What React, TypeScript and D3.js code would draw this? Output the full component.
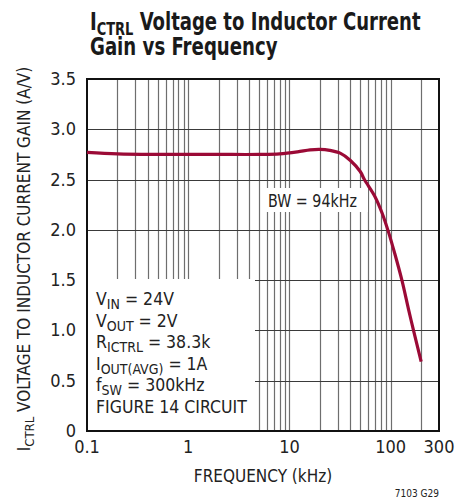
import { useEffect, useRef } from 'react'
import * as d3 from 'd3'

// (kHz, A/V)
const freqKHz = [0.1, 0.2, 0.5, 1, 2, 5, 8, 12, 16, 20, 25, 32, 40, 50, 55, 70, 82, 95, 110, 129, 150, 168, 200]
const gain = [2.77, 2.755, 2.75, 2.75, 2.75, 2.75, 2.755, 2.775, 2.795, 2.8, 2.79, 2.76, 2.69, 2.58, 2.5, 2.33, 2.17, 1.98, 1.76, 1.5, 1.21, 1.0, 0.69]

const xTicks = [0.1, 1, 10, 100, 300]
const xTickLabels = ['0.1', '1', '10', '100', '300']
const yTicks = [0, 0.5, 1, 1.5, 2, 2.5, 3, 3.5]
const yTickLabels = ['0', '0.5', '1.0', '1.5', '2.0', '2.5', '3.0', '3.5']

const FONT = "'Liberation Sans Narrow', 'Arial Narrow', 'DejaVu Sans Condensed', sans-serif"
const RED = '#9b0a36'

type TextSel = d3.Selection<SVGTextElement, unknown, null, undefined>

// squeeze a text horizontally so it spans the wanted width
function fitWidth(t: TextSel, x0: number, target: number) {
  const w = t.node()?.getBBox().width || target
  const s = target / w
  t.attr('transform', `translate(${x0},0) scale(${s},1) translate(${-x0},0)`)
}

export default function App() {
  const svgRef = useRef<SVGSVGElement>(null)
  const width = 459
  const height = 502

  useEffect(() => {
    if (!svgRef.current) return
    const svg = d3.select(svgRef.current)
    svg.selectAll('*').remove()

    const left = 87
    const right = 439
    const top = 79
    const bottom = 431

    const x = d3.scaleLog().domain([0.1, 300]).range([left, right])
    const y = d3.scaleLinear().domain([0, 3.5]).range([bottom, top])

    svg.append('rect').attr('width', width).attr('height', height).attr('fill', '#fff')

    // Title
    const title = svg
      .append('text')
      .attr('x', 90)
      .attr('y', 30)
      .attr('font-family', FONT)
      .attr('font-weight', 'bold')
      .attr('font-size', 25)
      .attr('fill', '#1a1a1a')
    title.append('tspan').text('I')
    title.append('tspan').attr('font-size', 18).attr('dy', 5).text('CTRL')
    title.append('tspan').attr('dy', -5).text(' Voltage to Inductor Current')
    fitWidth(title, 90, 331)
    const title2 = svg
      .append('text')
      .attr('x', 90)
      .attr('y', 55)
      .attr('font-family', FONT)
      .attr('font-weight', 'bold')
      .attr('font-size', 25)
      .attr('fill', '#1a1a1a')
      .text('Gain vs Frequency')
    fitWidth(title2, 90, 188)

    // Grid: minor vertical lines
    const minor: number[] = []
    for (let dec = 0.1; dec < 300; dec *= 10) {
      for (let m = 1; m <= 9; m++) {
        const v = dec * m
        if (v > 0.1 && v < 300) minor.push(v)
      }
    }
    svg
      .append('g')
      .selectAll('line')
      .data(minor)
      .enter()
      .append('line')
      .attr('x1', (d) => Math.round(x(d)) + 0.5)
      .attr('x2', (d) => Math.round(x(d)) + 0.5)
      .attr('y1', top)
      .attr('y2', bottom)
      .attr('stroke', '#6e6e6e')
      .attr('stroke-width', 1.2)

    svg
      .append('g')
      .selectAll('line')
      .data(yTicks.slice(1, -1))
      .enter()
      .append('line')
      .attr('x1', left)
      .attr('x2', right)
      .attr('y1', (d) => Math.round(y(d)) + 0.5)
      .attr('y2', (d) => Math.round(y(d)) + 0.5)
      .attr('stroke', '#3a3a3a')
      .attr('stroke-width', 1.2)

    // White boxes behind annotations
    svg.append('rect').attr('x', left).attr('y', 279).attr('width', 168).attr('height', bottom - 279).attr('fill', '#fff')
    svg.append('rect').attr('x', 265).attr('y', 188).attr('width', 103).attr('height', 24).attr('fill', '#fff')

    // Frame
    svg
      .append('rect')
      .attr('x', left)
      .attr('y', top)
      .attr('width', right - left)
      .attr('height', bottom - top)
      .attr('fill', 'none')
      .attr('stroke', '#111')
      .attr('stroke-width', 2)

    // Curve
    const line = d3
      .line<number>()
      .x((d) => x(d))
      .y((_, i) => y(gain[i]))
      .curve(d3.curveCatmullRom.alpha(0.5))
    svg
      .append('path')
      .datum(freqKHz)
      .attr('d', line)
      .attr('fill', 'none')
      .attr('stroke', RED)
      .attr('stroke-width', 3.2)

    // Tick labels
    svg
      .append('g')
      .selectAll('text')
      .data(yTicks)
      .enter()
      .append('text')
      .attr('x', 76)
      .attr('y', (d) => y(d) + 6)
      .attr('text-anchor', 'end')
      .attr('font-family', FONT)
      .attr('font-size', 18)
      .attr('fill', '#222')
      .text((_, i) => yTickLabels[i])

    svg
      .append('g')
      .selectAll('text')
      .data(xTicks)
      .enter()
      .append('text')
      .attr('x', (d) => x(d))
      .attr('y', 453)
      .attr('text-anchor', 'middle')
      .attr('font-family', FONT)
      .attr('font-size', 18)
      .attr('fill', '#222')
      .text((_, i) => xTickLabels[i])

    // Axis titles
    svg
      .append('text')
      .attr('x', 263)
      .attr('y', 482)
      .attr('text-anchor', 'middle')
      .attr('font-family', FONT)
      .attr('font-size', 17)
      .attr('fill', '#222')
      .text('FREQUENCY (kHz)')

    const yTitle = svg
      .append('text')
      .attr('transform', 'translate(30, 259) rotate(-90)')
      .attr('text-anchor', 'middle')
      .attr('font-family', FONT)
      .attr('font-size', 17)
      .attr('fill', '#222')
    yTitle.append('tspan').text('I')
    yTitle.append('tspan').attr('font-size', 13).attr('dy', 4).text('CTRL')
    yTitle.append('tspan').attr('dy', -4).text(' VOLTAGE TO INDUCTOR CURRENT GAIN (A/V)')

    // Annotation block
    const notes: [string, string, string][] = [
      ['V', 'IN', ' = 24V'],
      ['V', 'OUT', ' = 2V'],
      ['R', 'ICTRL', ' = 38.3k'],
      ['I', 'OUT(AVG)', ' = 1A'],
      ['f', 'SW', ' = 300kHz'],
      ['FIGURE 14 CIRCUIT', '', ''],
    ]
    notes.forEach((n, i) => {
      const t = svg
        .append('text')
        .attr('x', 96)
        .attr('y', 305 + i * 21.6)
        .attr('font-family', FONT)
        .attr('font-size', 17.5)
        .attr('fill', '#222')
      t.append('tspan').text(n[0])
      if (n[1]) {
        t.append('tspan').attr('font-size', 14).attr('dy', 4).text(n[1])
        t.append('tspan').attr('dy', -4).text(n[2])
      }
    })

    const bw = svg
      .append('text')
      .attr('x', 268)
      .attr('y', 207)
      .attr('font-family', FONT)
      .attr('font-size', 17.5)
      .attr('fill', '#222')
      .text('BW = 94kHz')
    fitWidth(bw, 268, 89)

    svg
      .append('text')
      .attr('x', 439)
      .attr('y', 497)
      .attr('text-anchor', 'end')
      .attr('font-family', FONT)
      .attr('font-size', 10)
      .attr('fill', '#222')
      .text('7103 G29')
  }, [])

  return (
    <svg
      ref={svgRef}
      width={width}
      height={height}
      style={{ position: 'fixed', left: 0, top: 0, display: 'block' }}
    />
  )
}
